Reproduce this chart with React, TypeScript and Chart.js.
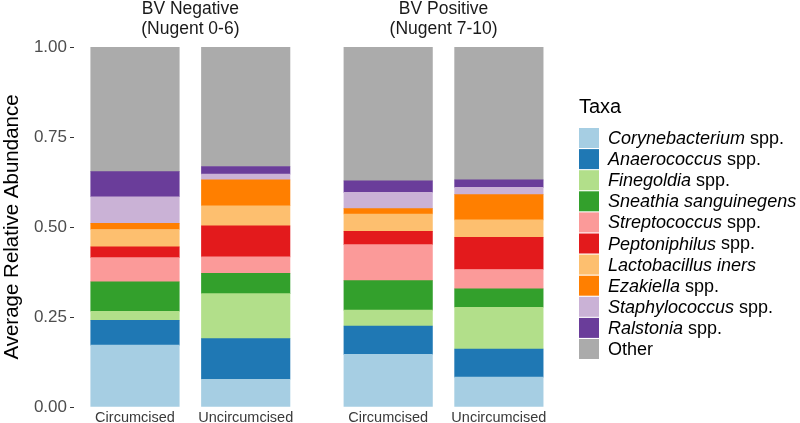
import React, { useEffect, useRef } from "react";
import { Chart, registerables } from "chart.js";

Chart.register(...registerables);

// ---- data ----
const facets = ["BV Negative\n(Nugent 0-6)", "BV Positive\n(Nugent 7-10)"];
const conditions = ["Circumcised", "Uncircumcised"];
// bar order: BV Neg Circ, BV Neg Uncirc, BV Pos Circ, BV Pos Uncirc
const corynebacterium = [0.172, 0.077, 0.146, 0.083];
const anaerococcus = [0.069, 0.113, 0.079, 0.078];
const finegoldia = [0.025, 0.125, 0.044, 0.116];
const sneathia = [0.082, 0.056, 0.082, 0.051];
const streptococcus = [0.067, 0.046, 0.1, 0.054];
const peptoniphilus = [0.03, 0.086, 0.037, 0.089];
const lactobacillus = [0.048, 0.056, 0.048, 0.049];
const ezakiella = [0.017, 0.072, 0.015, 0.07];
const staphylococcus = [0.074, 0.016, 0.045, 0.02];
const ralstonia = [0.07, 0.021, 0.032, 0.021];
const other = [0.346, 0.332, 0.372, 0.369];

const taxaItalic = [
  "Corynebacterium",
  "Anaerococcus",
  "Finegoldia",
  "Sneathia sanguinegens",
  "Streptococcus",
  "Peptoniphilus",
  "Lactobacillus iners",
  "Ezakiella",
  "Staphylococcus",
  "Ralstonia",
  "",
];
const taxaPlain = [" spp.", " spp.", " spp.", "", " spp.", " spp.", "", " spp.", " spp.", " spp.", "Other"];
const taxaValues = [
  corynebacterium,
  anaerococcus,
  finegoldia,
  sneathia,
  streptococcus,
  peptoniphilus,
  lactobacillus,
  ezakiella,
  staphylococcus,
  ralstonia,
  other,
];
const taxaColors = [
  "#A6CEE3",
  "#1F78B4",
  "#B2DF8A",
  "#33A02C",
  "#FB9A99",
  "#E31A1C",
  "#FDBF6F",
  "#FF7F00",
  "#CAB2D6",
  "#6A3D9A",
  "#ABABAB",
];
const yTicks = [0, 0.25, 0.5, 0.75, 1];

// ---- layout ----
const FONT = '"Liberation Sans", Arial, sans-serif';
const FACET_OFFSET = 2.287; // x-distance between facet panels (layout)
const barPos = (f: number, c: number) => 1 + c + f * FACET_OFFSET;
const positions: number[] = [];
facets.forEach((_, f) => conditions.forEach((_, c) => positions.push(barPos(f, c))));

const stripPlugin = {
  id: "strips",
  afterDraw(chart: any) {
    const ctx = chart.ctx;
    const xs = chart.scales.x;
    ctx.save();
    ctx.fillStyle = "#1a1a1a";
    ctx.font = `17.5px ${FONT}`;
    ctx.textAlign = "center";
    ctx.textBaseline = "middle";
    facets.forEach((name, f) => {
      const cx = xs.getPixelForValue(barPos(f, 0.5));
      name.split("\n").forEach((line, i) => {
        ctx.fillText(line, cx, 9.5 + i * 20);
      });
    });
    ctx.restore();
  },
};

const legendPlugin = {
  id: "taxaLegend",
  afterDraw(chart: any) {
    const ctx = chart.ctx;
    ctx.save();
    ctx.textAlign = "left";
    ctx.textBaseline = "middle";
    ctx.fillStyle = "#000";
    ctx.font = `20px ${FONT}`;
    ctx.fillText("Taxa", 579, 107);
    const n = chart.data.datasets.length;
    for (let i = 0; i < n; i++) {
      const ds = chart.data.datasets[i];
      const y = 128 + i * 21.1;
      ctx.fillStyle = ds.backgroundColor;
      ctx.fillRect(579, y, 20, 20);
      let x = 608;
      ctx.fillStyle = "#000";
      if (taxaItalic[i]) {
        ctx.font = `italic 18px ${FONT}`;
        ctx.fillText(taxaItalic[i], x, y + 11);
        x += ctx.measureText(taxaItalic[i]).width;
      }
      if (taxaPlain[i]) {
        ctx.font = `18px ${FONT}`;
        ctx.fillText(taxaPlain[i], x, y + 11);
      }
    }
    ctx.restore();
  },
};

export default function App() {
  const ref = useRef<HTMLCanvasElement>(null);
  useEffect(() => {
    if (!ref.current) return;
    const datasets = taxaValues.map((vals, i) => ({
      label: (taxaItalic[i] + taxaPlain[i]).trim(),
      data: vals.map((v, j) => ({ x: positions[j], y: v })),
      backgroundColor: taxaColors[i],
      borderWidth: 0,
      barThickness: 88.5,
    }));
    const chart = new Chart(ref.current, {
      type: "bar",
      data: { datasets },
      plugins: [stripPlugin, legendPlugin],
      options: {
        animation: false,
        responsive: false,
        layout: { padding: { top: 47, right: 240, bottom: 0, left: 0 } },
        plugins: { legend: { display: false }, tooltip: { enabled: false } },
        scales: {
          x: {
            type: "linear",
            offset: false,
            min: 0.449,
            max: 4.839,
            stacked: true,
            grid: { display: false, drawTicks: false, tickLength: 0, offset: false },
            border: { display: false },
            afterBuildTicks: (scale: any) => {
              scale.ticks = positions.map((v) => ({ value: v }));
            },
            afterFit: (scale: any) => {
              scale.height = 16;
              scale.paddingLeft = 0;
              scale.paddingRight = 0;
            },
            ticks: {
              autoSkip: false,
              maxRotation: 0,
              minRotation: 0,
              padding: 2,
              color: "#3a3a3a",
              font: { family: FONT, size: 14.5 },
              callback: (_v: any, i: number) => conditions[i % conditions.length],
            },
          },
          y: {
            min: 0,
            max: 1,
            stacked: true,
            afterBuildTicks: (scale: any) => {
              scale.ticks = yTicks.map((v) => ({ value: v }));
            },
            afterFit: (scale: any) => {
              scale.width = 74;
              scale.paddingTop = 0;
              scale.paddingBottom = 0;
            },
            grid: {
              display: true,
              drawOnChartArea: false,
              drawTicks: true,
              tickLength: 4,
              tickColor: "#333333",
              tickWidth: 1,
            },
            border: { display: false },
            ticks: {
              padding: 3,
              color: "#4d4d4d",
              font: { family: FONT, size: 17 },
              callback: (v: any) => Number(v).toFixed(2),
            },
            title: {
              display: true,
              text: "Average Relative Abundance",
              color: "#000",
              font: { family: FONT, size: 20.5 },
              padding: { top: 0, bottom: 0 },
            },
          },
        },
      },
    });
    return () => chart.destroy();
  }, []);
  return (
    <div style={{ position: "absolute", left: 0, top: 0, width: 800, height: 423, background: "#fff" }}>
      <canvas ref={ref} width={800} height={423} style={{ display: "block", width: 800, height: 423 }} />
    </div>
  );
}
